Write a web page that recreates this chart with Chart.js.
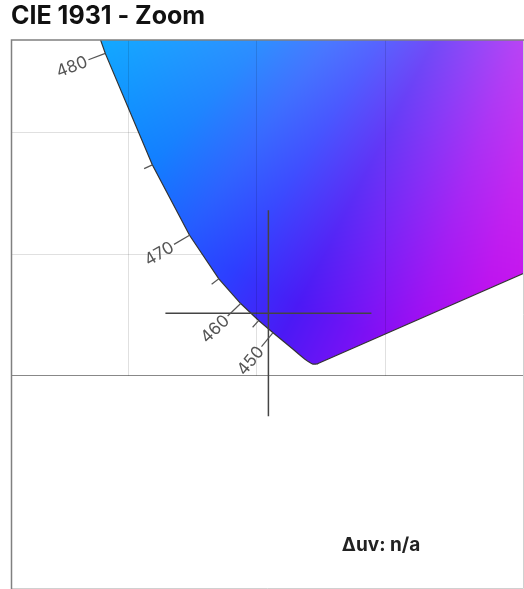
<!DOCTYPE html>
<html>
<head>
<meta charset="utf-8">
<script src="https://cdn.jsdelivr.net/npm/chart.js@4.4.0/dist/chart.umd.min.js"></script>
<style>
  html, body { margin: 0; padding: 0; background: #fff; }
  #wrap { position: relative; width: 524px; height: 589px; }
</style>
</head>
<body>
<div id="wrap"><canvas id="cie"></canvas></div>
<script>
// CIE 1931 2deg spectral locus, 5 nm steps
const wavelengths = [380, 385, 390, 395, 400, 405, 410, 415, 420, 425, 430, 435, 440, 445, 450, 455, 460, 465, 470, 475,
    480, 485, 490, 495, 500, 505, 510, 515, 520, 525, 530, 535, 540, 545, 550, 555, 560, 565, 570, 575,
    580, 585, 590, 595, 600, 605, 610, 615, 620, 625, 630, 635, 640, 645, 650, 655, 660, 665, 670, 675,
    680, 685, 690, 695, 700];
const locusX = [0.1741, 0.1740, 0.1738, 0.1736, 0.1733, 0.1730, 0.1726, 0.1721, 0.1714, 0.1703, 0.1689, 0.1669, 0.1644, 0.1611, 0.1566, 0.1510, 0.1440, 0.1355, 0.1241, 0.1096,
    0.0913, 0.0687, 0.0454, 0.0235, 0.0082, 0.0039, 0.0139, 0.0389, 0.0743, 0.1142, 0.1547, 0.1929, 0.2296, 0.2658, 0.3016, 0.3373, 0.3731, 0.4087, 0.4441, 0.4788,
    0.5125, 0.5448, 0.5752, 0.6029, 0.6270, 0.6482, 0.6658, 0.6801, 0.6915, 0.7006, 0.7079, 0.7140, 0.7190, 0.7230, 0.7260, 0.7283, 0.7300, 0.7311, 0.7320, 0.7327,
    0.7334, 0.7340, 0.7344, 0.7346, 0.7347];
const locusY = [0.0050, 0.0050, 0.0049, 0.0049, 0.0048, 0.0048, 0.0048, 0.0048, 0.0051, 0.0058, 0.0069, 0.0086, 0.0109, 0.0138, 0.0177, 0.0227, 0.0297, 0.0399, 0.0578, 0.0868,
    0.1327, 0.2007, 0.2950, 0.4127, 0.5384, 0.6548, 0.7502, 0.8120, 0.8338, 0.8262, 0.8059, 0.7816, 0.7543, 0.7243, 0.6923, 0.6589, 0.6245, 0.5896, 0.5547, 0.5202,
    0.4866, 0.4544, 0.4242, 0.3965, 0.3725, 0.3514, 0.3340, 0.3197, 0.3083, 0.2993, 0.2920, 0.2859, 0.2809, 0.2770, 0.2740, 0.2717, 0.2700, 0.2689, 0.2680, 0.2673,
    0.2666, 0.2660, 0.2656, 0.2654, 0.2653];

// measured chromaticity (crosshair)
const pointX = [0.1548];
const pointY = [0.0257];

// zoom window
const xRange = [0.0546, 0.2539];
const yRange = [-0.0874, 0.1382];
const gridStep = 0.05;

// wavelength marks along the locus, labels every 10 nm
const markWavelengths = [450, 455, 460, 465, 470, 475, 480, 485, 490];
const deltaUvText = 'Δuv: n/a';

const locusPoints = locusX.map((x, i) => ({ x: x, y: locusY[i] }));
locusPoints.push({ x: locusX[0], y: locusY[0] }); // close with the purple line

// smooth hue ramp around the D65 white point (angle in degrees -> rgb)
const WHITE = [0.3127, 0.3290];
const hueAngles = [-170, -145, -139, -130, -125, -121, -116, -112, -108, -104, -98, -80, -40];
const hueColors = [[0, 210, 255], [0, 178, 255], [0, 160, 255], [10, 122, 255], [35, 90, 255], [45, 62, 255],
    [75, 25, 245], [115, 18, 245], [155, 10, 242], [185, 5, 238], [205, 5, 235], [230, 0, 220], [255, 0, 160]];

function chromaColor(x, y) {
    const dx = x - WHITE[0], dy = y - WHITE[1];
    const ang = Math.atan2(dy, dx) * 180 / Math.PI;
    let c = hueColors[0];
    if (ang >= hueAngles[hueAngles.length - 1]) {
        c = hueColors[hueColors.length - 1];
    } else if (ang > hueAngles[0]) {
        for (let k = 1; k < hueAngles.length; k++) {
            if (ang <= hueAngles[k]) {
                const t = (ang - hueAngles[k - 1]) / (hueAngles[k] - hueAngles[k - 1]);
                const c0 = hueColors[k - 1], c1 = hueColors[k];
                c = [c0[0] + (c1[0] - c0[0]) * t, c0[1] + (c1[1] - c0[1]) * t, c0[2] + (c1[2] - c0[2]) * t];
                break;
            }
        }
    }
    const w = Math.min(0.4, Math.max(0, 0.6 - 1.8 * Math.hypot(dx, dy)));
    return c.map(v => Math.round(v + (255 - v) * w));
}

let patternCache = null;
function chromaPattern(chart) {
    const area = chart.chartArea;
    if (!area || !chart.scales.x) return 'rgba(60,60,255,1)';
    const key = [chart.width, chart.height, area.left, area.top, area.right, area.bottom].join(',');
    if (patternCache && patternCache.key === key) return patternCache.pattern;
    const xs = chart.scales.x, ys = chart.scales.y;
    const ratio = chart.currentDevicePixelRatio || 1;
    const off = document.createElement('canvas');
    off.width = chart.canvas.width;
    off.height = chart.canvas.height;
    const octx = off.getContext('2d');
    const img = octx.createImageData(off.width, off.height);
    for (let py = Math.floor(area.top * ratio); py < Math.ceil(area.bottom * ratio); py++) {
        const y = ys.getValueForPixel((py + 0.5) / ratio);
        if (y <= 0.001) continue;
        for (let px = Math.floor(area.left * ratio); px < Math.ceil(area.right * ratio); px++) {
            const x = xs.getValueForPixel((px + 0.5) / ratio);
            const c = chromaColor(x, y);
            const i = (py * off.width + px) * 4;
            img.data[i] = c[0]; img.data[i + 1] = c[1]; img.data[i + 2] = c[2]; img.data[i + 3] = 255;
        }
    }
    octx.putImageData(img, 0, 0);
    const pattern = chart.ctx.createPattern(off, 'no-repeat');
    if (ratio !== 1 && pattern.setTransform) pattern.setTransform(new DOMMatrix().scale(1 / ratio));
    patternCache = { key: key, pattern: pattern };
    return pattern;
}

const overlayPlugin = {
    id: 'cieOverlay',
    afterDatasetsDraw(chart) {
        const ctx = chart.ctx, a = chart.chartArea;
        const xs = chart.scales.x, ys = chart.scales.y;
        ctx.save();
        ctx.beginPath();
        ctx.rect(a.left, a.top, a.right - a.left, a.bottom - a.top);
        ctx.clip();

        // vertical grid, only above y = 0
        const y0 = ys.getPixelForValue(0);
        ctx.strokeStyle = 'rgba(0,0,0,0.12)';
        ctx.lineWidth = 1;
        xs.ticks.forEach(function (t) {
            if (t.value <= xs.min + 1e-9 || t.value >= xs.max - 1e-9) return;
            const px = Math.round(xs.getPixelForValue(t.value)) + 0.5;
            ctx.beginPath();
            ctx.moveTo(px, a.top);
            ctx.lineTo(px, y0);
            ctx.stroke();
        });

        // wavelength ticks and labels
        const pts = chart.getDatasetMeta(0).data;
        ctx.strokeStyle = '#555';
        ctx.fillStyle = '#555';
        ctx.lineWidth = 1.2;
        ctx.font = '17px Inter, "Liberation Sans", sans-serif';
        markWavelengths.forEach(function (wl) {
            const i = wavelengths.indexOf(wl);
            const p = pts[i], prev = pts[i - 1], next = pts[i + 1];
            let tx = next.x - prev.x, ty = next.y - prev.y;
            const len = Math.hypot(tx, ty);
            tx /= len; ty /= len;
            const nx = ty, ny = -tx;
            const major = wl % 10 === 0;
            const tl = major ? 18 : 9;
            const ex = p.x + nx * tl, ey = p.y + ny * tl;
            ctx.beginPath();
            ctx.moveTo(p.x, p.y);
            ctx.lineTo(ex, ey);
            ctx.stroke();
            if (major) {
                let ang = Math.atan2(-ny, -nx);
                ctx.save();
                ctx.translate(ex + nx * 2, ey + ny * 2);
                if (Math.abs(ang) > Math.PI / 2) {
                    ctx.rotate(ang + Math.PI);
                    ctx.textAlign = 'left';
                } else {
                    ctx.rotate(ang);
                    ctx.textAlign = 'right';
                }
                ctx.textBaseline = 'middle';
                ctx.fillText(String(wl), 0, 1);
                ctx.restore();
            }
        });

        // delta uv readout
        ctx.fillStyle = '#222';
        ctx.font = 'bold 19px Inter, "Liberation Sans", sans-serif';
        ctx.textAlign = 'center';
        ctx.textBaseline = 'alphabetic';
        ctx.fillText(deltaUvText, a.left + 0.7227 * (a.right - a.left), a.top + 0.9325 * (a.bottom - a.top));
        ctx.restore();

        // frame
        ctx.save();
        ctx.lineWidth = 1;
        ctx.strokeStyle = '#d0d0d0';
        ctx.beginPath();
        ctx.moveTo(a.left, a.bottom + 0.5);
        ctx.lineTo(a.right + 0.5, a.bottom + 0.5);
        ctx.lineTo(a.right + 0.5, a.top);
        ctx.stroke();
        ctx.strokeStyle = '#808080';
        ctx.lineWidth = 1.5;
        ctx.beginPath();
        ctx.moveTo(a.left + 0.5, a.bottom + 1);
        ctx.lineTo(a.left + 0.5, a.top);
        ctx.lineTo(a.right + 1, a.top);
        ctx.stroke();
        ctx.restore();
    }
};

const ctx = document.getElementById('cie').getContext('2d');
const cieChart = new Chart(ctx, {
    type: 'scatter',
    data: {
        datasets: [
            {
                label: 'Spectral locus',
                data: locusPoints,
                showLine: true,
                fill: 'shape',
                backgroundColor: function (context) { return chromaPattern(context.chart); },
                borderColor: '#333',
                borderWidth: 1.2,
                pointRadius: 0,
                pointHoverRadius: 0,
                pointBackgroundColor: '#333',
                tension: 0,
                order: 2
            },
            {
                label: 'Measured',
                data: pointX.map((x, i) => ({ x: x, y: pointY[i] })),
                pointStyle: 'cross',
                pointRadius: 103,
                pointHoverRadius: 103,
                pointBorderColor: '#444',
                pointBorderWidth: 1.5,
                order: 1
            }
        ]
    },
    options: {
        responsive: true,
        maintainAspectRatio: false,
        animation: false,
        events: [],
        layout: {
            autoPadding: false,
            padding: { left: 11, right: 1, top: 0, bottom: 1 }
        },
        scales: {
            x: {
                type: 'linear',
                min: xRange[0],
                max: xRange[1],
                ticks: { display: false, stepSize: gridStep },
                grid: { display: false, drawTicks: false },
                border: { display: false }
            },
            y: {
                type: 'linear',
                min: yRange[0],
                max: yRange[1],
                z: 1,
                ticks: { display: false, stepSize: gridStep },
                grid: {
                    drawTicks: false,
                    lineWidth: 1,
                    color: function (c) {
                        const v = c.tick ? c.tick.value : null;
                        if (v === null) return 'rgba(0,0,0,0)';
                        if (Math.abs(v) < 1e-9) return '#888';
                        if (v < 0 || v >= yRange[1] - 1e-9) return 'rgba(0,0,0,0)';
                        return 'rgba(0,0,0,0.12)';
                    }
                },
                border: { display: false }
            }
        },
        plugins: {
            legend: { display: false },
            tooltip: { enabled: false },
            title: {
                display: true,
                text: 'CIE 1931 - Zoom',
                align: 'start',
                color: '#111',
                font: { family: 'Inter, "Liberation Sans", sans-serif', size: 25, weight: 'bold' },
                padding: { top: 1, bottom: 9 }
            }
        }
    },
    plugins: [overlayPlugin]
});
</script>
</body>
</html>
